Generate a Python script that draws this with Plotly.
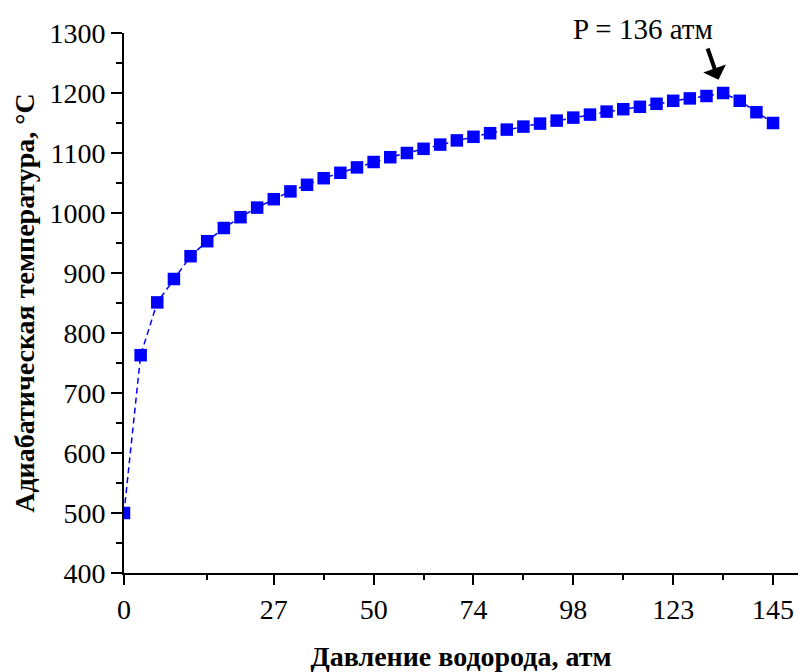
import plotly.graph_objects as go

# Adiabatic temperature (°C) at each calculated hydrogen-pressure step
temperature = [
    500, 763, 851, 890, 928, 953, 975, 993, 1009, 1023,
    1036, 1047, 1058, 1067, 1076, 1085, 1093, 1100, 1107, 1114,
    1121, 1127, 1133, 1139, 1144, 1149, 1154, 1159, 1164, 1169,
    1173, 1177, 1182, 1187, 1191, 1195, 1200, 1187, 1168, 1150,
]
step = list(range(len(temperature)))

# Pressure labels (atm) shown at selected steps
pressure_tick_steps = [0, 9, 15, 21, 27, 33, 39]
pressure_tick_labels = ["0", "27", "50", "74", "98", "123", "145"]
minor_tick_steps = [5, 12, 18, 24, 30, 36]

peak_step = 36
peak_label = "P = 136 атм"

FONT = "Liberation Serif, Times New Roman, serif"
BLUE = "#0000FF"

fig = go.Figure()
fig.add_trace(go.Scatter(
    x=step,
    y=temperature,
    mode="lines+markers",
    line=dict(color=BLUE, width=1.5, dash="6px,4px"),
    marker=dict(symbol="square", size=12.5, color=BLUE, line=dict(width=0)),
    showlegend=False,
))

# arrow pointing at the maximum
fig.add_annotation(
    x=peak_step, y=temperature[peak_step], xref="x", yref="y",
    text="", showarrow=True, ax=-16, ay=-46,
    arrowhead=1, arrowsize=1.0, arrowwidth=4, arrowcolor="black",
    standoff=14,
)
fig.add_annotation(
    x=0.77, y=1.007, xref="paper", yref="paper",
    text=peak_label, showarrow=False,
    font=dict(family=FONT, size=29, color="black"),
    xanchor="center", yanchor="middle",
)

fig.update_layout(
    width=798, height=672,
    margin=dict(l=124, r=0, t=33, b=95),
    paper_bgcolor="white", plot_bgcolor="white",
    font=dict(family=FONT, color="black"),
)

fig.update_xaxes(
    range=[0, 40.5],
    tickmode="array", tickvals=pressure_tick_steps, ticktext=pressure_tick_labels,
    ticks="outside", ticklen=10, tickwidth=2, tickcolor="black",
    tickfont=dict(family=FONT, size=28, color="black"),
    minor=dict(tickmode="array", tickvals=minor_tick_steps,
               ticks="outside", ticklen=5, tickwidth=2, tickcolor="black"),
    showline=True, linecolor="black", linewidth=2,
    showgrid=False, zeroline=False,
    title=dict(text="<b>Давление водорода, атм</b>", standoff=28,
               font=dict(family=FONT, size=28, color="black")),
)

fig.update_yaxes(
    range=[400, 1300],
    tickmode="linear", tick0=400, dtick=100,
    ticks="outside", ticklen=11, tickwidth=2, tickcolor="black",
    tickfont=dict(family=FONT, size=28, color="black"),
    minor=dict(dtick=50, ticks="outside", ticklen=6, tickwidth=2, tickcolor="black"),
    showline=True, linecolor="black", linewidth=2,
    showgrid=False, zeroline=False,
    title=dict(text="<b>Адиабатическая температура, °С</b>", standoff=7,
               font=dict(family=FONT, size=28, color="black")),
)

fig.write_html("out.html")
